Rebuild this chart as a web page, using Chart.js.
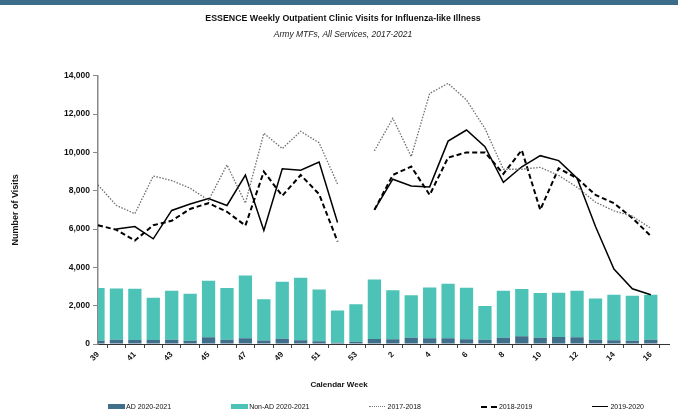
<!DOCTYPE html>
<html>
<head>
<meta charset="utf-8">
<script src="https://cdn.jsdelivr.net/npm/chart.js@4"></script>
<style>
  body { margin: 0; background: #fff; }
  #wrap { position: relative; width: 678px; height: 412px; overflow: hidden; }
  #band { position: absolute; left: 0; top: 0; width: 678px; height: 5px; background: #3b6c88; }
  #xtitle { position: absolute; left: 0; width: 678px; top: 380px; text-align: center;
            font: bold 8px "Liberation Sans", sans-serif; color: #111; }
  #legend { position: absolute; left: 108px; top: 403px; display: flex; gap: 60px;
            font: 7px "Liberation Sans", sans-serif; color: #111; white-space: nowrap; }
  #legend span.item { display: flex; align-items: center; }
  .sw { display: inline-block; width: 17px; height: 5px; margin-right: 1px; }
  .ln { display: inline-block; width: 16px; height: 0; margin-right: 2px; border-top: 1.5px solid #000; }
</style>
</head>
<body>
<div id="wrap">
  <canvas id="chart"></canvas>
  <div id="band"></div>
  <div id="xtitle">Calendar Week</div>
  <div id="legend">
    <span class="item"><span class="sw" style="background:#3f6f8b"></span>AD 2020-2021</span>
    <span class="item"><span class="sw" style="background:#4cc3b6"></span>Non-AD 2020-2021</span>
    <span class="item"><span class="ln" style="border-top:1.2px dotted #777"></span>2017-2018</span>
    <span class="item"><span class="ln" style="border-top:2px dashed #000"></span>2018-2019</span>
    <span class="item"><span class="ln" style="border-top:1.5px solid #000"></span>2019-2020</span>
  </div>
</div>
<script>
// calendar weeks (season runs week 39 to week 16; week 17 only extends the axis)
const weeks = ['39','40','41','42','43','44','45','46','47','48','49','50','51','52','53',
               '1','2','3','4','5','6','7','8','9','10','11','12','13','14','15','16','17'];

// 2020-2021 bars
const ad2021 = [170,225,210,210,225,175,350,225,295,180,280,190,140,70,120,
                260,245,330,295,295,245,225,330,400,330,365,350,225,190,175,225,null];
const nonAd2021 = [2750,2675,2670,2200,2555,2445,2950,2695,3285,2160,2970,3270,2710,1680,1960,
                   3110,2555,2220,2655,2845,2695,1755,2450,2470,2330,2305,2430,2155,2380,2345,2345,null];

// earlier seasons (no week 53)
const s1718 = [8300,7230,6800,8770,8530,8130,7500,9350,7350,11000,10200,11100,10500,8350,null,
               10080,11780,9780,13080,13600,12730,11250,9120,9120,9220,8800,8180,7400,6950,6670,6040,null];
const s1819 = [6200,5960,5400,6200,6430,7050,7350,6900,6180,9000,7730,8820,7820,5350,null,
               7000,8820,9260,7780,9730,10000,10000,8880,10120,7000,9170,8650,7780,7350,6570,5640,null];
const s1920 = [null,6000,6130,5490,6970,7310,7590,7230,8820,5920,9150,9070,9500,6340,null,
               7000,8600,8250,8200,10590,11170,10300,8440,9250,9830,9570,8650,6130,3910,2880,2570,null];

const yTicks = [0,2000,4000,6000,8000,10000,12000,14000];

const fam = '"Liberation Sans", Arial, sans-serif';

const ctx = document.getElementById('chart').getContext('2d');
const chart = new Chart(ctx, {
    type: 'bar',
    data: {
        labels: weeks,
        datasets: [
            { type: 'line', label: '2017-2018', data: s1718, stack: 'a',
              borderColor: '#6e6e6e', borderWidth: 1.3, borderDash: [1.5, 1.5],
              pointRadius: 0, spanGaps: false, fill: false, tension: 0 },
            { type: 'line', label: '2018-2019', data: s1819, stack: 'b',
              borderColor: '#000', borderWidth: 2, borderDash: [5, 3],
              pointRadius: 0, spanGaps: false, fill: false, tension: 0 },
            { type: 'line', label: '2019-2020', data: s1920, stack: 'c',
              borderColor: '#000', borderWidth: 1.5,
              pointRadius: 0, spanGaps: false, fill: false, tension: 0 },
            { label: 'AD 2020-2021', data: ad2021, stack: 'bars',
              backgroundColor: '#3f6f8b', clip: 0 },
            { label: 'Non-AD 2020-2021', data: nonAd2021, stack: 'bars',
              backgroundColor: '#4cc3b6', clip: 0 }
        ]
    },
    options: {
        responsive: true,
        maintainAspectRatio: false,
        animation: false,
        layout: { padding: { left: 8, right: 0, top: 0, bottom: 0 } },
        plugins: {
            legend: { display: false },
            tooltip: { enabled: false },
            title: {
                display: true,
                text: 'ESSENCE Weekly Outpatient Clinic Visits for Influenza-like Illness',
                color: '#111',
                font: { family: fam, size: 8.8, weight: 'bold' },
                padding: { top: 13, bottom: 5 }
            },
            subtitle: {
                display: true,
                text: 'Army MTFs, All Services, 2017-2021',
                color: '#222',
                font: { family: fam, size: 8.5, style: 'italic' },
                padding: { top: 1, bottom: 36 }
            }
        },
        scales: {
            x: {
                stacked: true,
                offset: false,
                grid: { display: true, drawOnChartArea: false, tickLength: 4, color: '#444' },
                border: { color: '#333', width: 1 },
                ticks: {
                    autoSkip: false, maxRotation: 45, minRotation: 45, padding: 2,
                    color: '#111', font: { family: fam, size: 8, weight: 'bold' },
                    callback: function(v, i) { return i % 2 === 0 ? weeks[i] : ''; }
                },
                afterFit: function(scale) { scale.height = 68; }
            },
            y: {
                stacked: true,
                min: 0, max: 14000,
                afterBuildTicks: function(scale) { scale.ticks = yTicks.map(v => ({ value: v })); },
                grid: { display: true, drawOnChartArea: false, tickLength: 5, color: '#888' },
                border: { color: '#888', width: 1.5 },
                ticks: {
                    padding: 3, color: '#111',
                    font: { family: fam, size: 8.5, weight: 'bold' },
                    callback: function(v) { return v.toLocaleString('en-US'); }
                },
                title: {
                    display: true, text: 'Number of Visits', color: '#111',
                    font: { family: fam, size: 9, weight: 'bold' },
                    padding: { top: 2, bottom: 0 }
                },
                afterFit: function(scale) { scale.width = 90; }
            }
        }
    }
});
</script>
</body>
</html>
